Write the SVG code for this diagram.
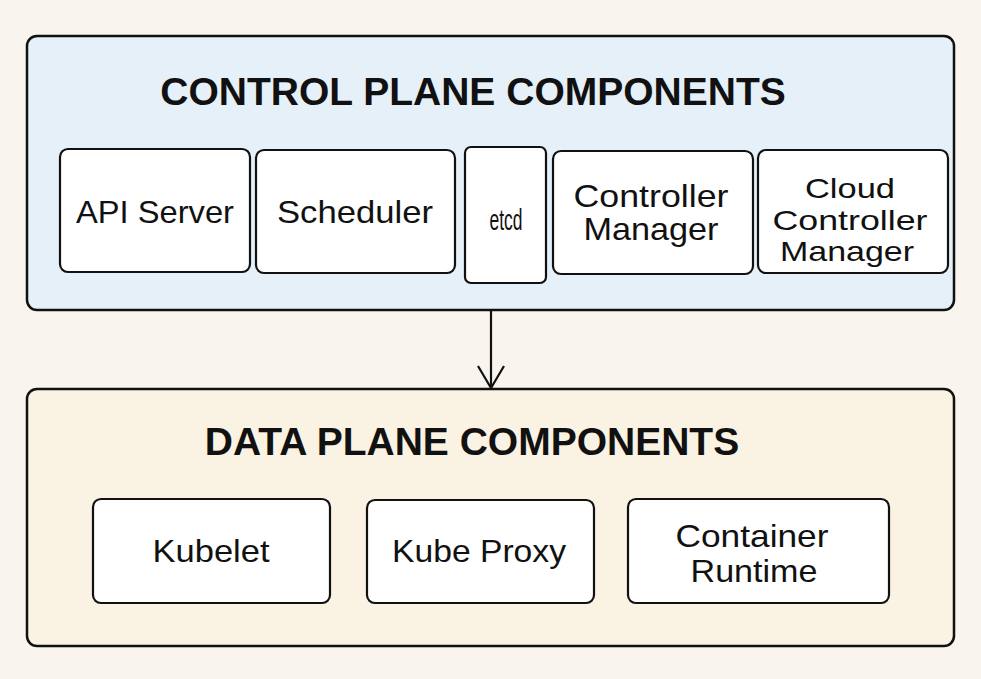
<svg xmlns="http://www.w3.org/2000/svg" width="981" height="679" viewBox="0 0 981 679">
<defs>
<style>
.panel{stroke:#111;stroke-width:2.5}
.node rect{fill:#fff;stroke:#111;stroke-width:2.2}
text{font-family:"Liberation Sans",Arial,sans-serif;fill:#111;text-anchor:middle}
.t{font-size:32px}
.s{font-size:28px}
.title{font-size:39px;font-weight:bold}
</style>
<marker id="arr" viewBox="0 0 26 30" refX="24" refY="15" markerWidth="26" markerHeight="30" markerUnits="userSpaceOnUse" orient="auto">
<path d="M2 2 L24 15 L2 28" fill="none" stroke="#111" stroke-width="2.2"/>
</marker>
</defs>
<rect width="981" height="679" fill="#f9f5ee"/>
<g id="control-plane">
<rect class="panel" x="27" y="36" width="927" height="274" rx="10" fill="#e5f0f9"/>
<text class="title" x="473" y="105">CONTROL PLANE COMPONENTS</text>
</g>
<g id="data-plane">
<rect class="panel" x="27" y="389" width="927" height="257" rx="10" fill="#faf2e3"/>
<text class="title" x="472" y="455">DATA PLANE COMPONENTS</text>
</g>
<g id="api-server" class="node">
<rect x="60" y="149" width="190" height="123" rx="8"/>
<text class="t" x="155" y="223" textLength="158" lengthAdjust="spacingAndGlyphs">API Server</text>
</g>
<g id="scheduler" class="node">
<rect x="256" y="150" width="199" height="123" rx="8"/>
<text class="t" x="355" y="223" textLength="156" lengthAdjust="spacingAndGlyphs">Scheduler</text>
</g>
<g id="etcd" class="node">
<rect x="465" y="147" width="81" height="136" rx="6"/>
<text x="506" y="230" font-size="30" textLength="33" lengthAdjust="spacingAndGlyphs">etcd</text>
</g>
<g id="controller-manager" class="node">
<rect x="553" y="151" width="200" height="123" rx="8"/>
<text class="t" x="651" y="207" textLength="155" lengthAdjust="spacingAndGlyphs">Controller</text>
<text class="t" x="651" y="240" textLength="135" lengthAdjust="spacingAndGlyphs">Manager</text>
</g>
<g id="cloud-controller-manager" class="node">
<rect x="758" y="150" width="190" height="123" rx="8"/>
<text class="s" x="850" y="198" textLength="90" lengthAdjust="spacingAndGlyphs">Cloud</text>
<text class="s" x="850" y="230" textLength="155" lengthAdjust="spacingAndGlyphs">Controller</text>
<text class="s" x="847" y="261" textLength="134" lengthAdjust="spacingAndGlyphs">Manager</text>
</g>
<g id="kubelet" class="node">
<rect x="93" y="499" width="237" height="104" rx="8"/>
<text class="t" x="211" y="562" textLength="117" lengthAdjust="spacingAndGlyphs">Kubelet</text>
</g>
<g id="kube-proxy" class="node">
<rect x="367" y="500" width="227" height="103" rx="8"/>
<text class="t" x="479" y="562" textLength="174" lengthAdjust="spacingAndGlyphs">Kube Proxy</text>
</g>
<g id="container-runtime" class="node">
<rect x="628" y="499" width="261" height="104" rx="8"/>
<text class="t" x="752" y="547" textLength="153" lengthAdjust="spacingAndGlyphs">Container</text>
<text class="t" x="754" y="582" textLength="127" lengthAdjust="spacingAndGlyphs">Runtime</text>
</g>
<g id="connectors">
<line x1="491" y1="311" x2="491" y2="388" stroke="#111" stroke-width="2.2" marker-end="url(#arr)"/>
</g>
</svg>
